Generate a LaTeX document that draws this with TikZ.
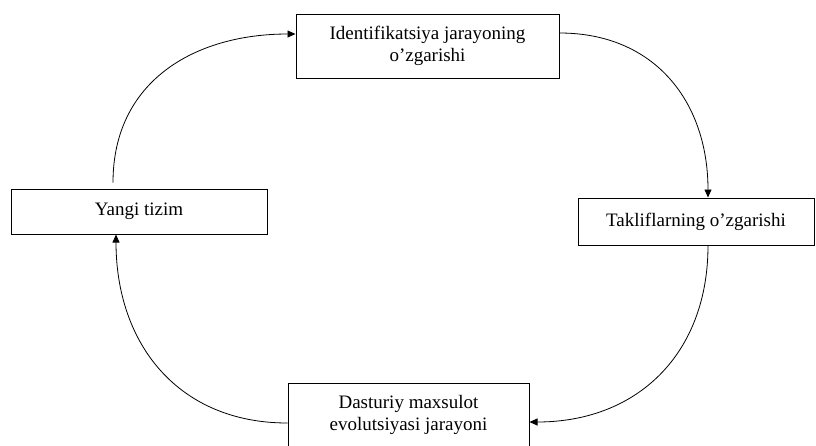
\documentclass[tikz,border=0pt]{standalone}
\usepackage{fontspec}
\setmainfont{Liberation Serif}
\usepackage{tikz}
\usetikzlibrary{arrows.meta,shapes,calc}

\begin{document}
\begin{tikzpicture}[x=1pt,y=-1pt]
            \tikzset{box/.style = {draw, line width=1pt, rectangle, align=center,
                font=\fontsize{19}{22}\selectfont}}
            \tikzset{edge/.style = {line width=0.8pt, -{Triangle[length=8pt,width=7pt]}}}
            \useasboundingbox (0,0) rectangle (816,445);

            % vertices
            \node[box, minimum width=263pt, minimum height=64pt] (ident) at (427.5,46) {Identifikatsiya jarayoning\\o’zgarishi};
            \node[box, minimum width=236pt, minimum height=47pt] (taklif) at (696,221.5) {Takliflarning o’zgarishi};
            \node[box, minimum width=241pt, minimum height=64pt] (dastur) at (408.5,415) {Dasturiy maxsulot\\evolutsiyasi jarayoni};
            \node[box, minimum width=256pt, minimum height=45pt] (yangi) at (139,211.5) {Yangi tizim};

            % edges
            \draw[edge] ([xshift=-26pt,yshift=6pt]yangi.north) to[out=90,in=180,looseness=1.1] ([yshift=12pt]ident.west);
            \draw[edge] ([yshift=13pt]ident.east) to[out=0,in=90,looseness=1.1] ([xshift=12pt]taklif.north);
            \draw[edge] ([xshift=12pt]taklif.south) to[out=-90,in=0,looseness=1.1] ([yshift=-7pt]dastur.east);
            \draw[edge] ([yshift=-8pt]dastur.west) to[out=180,in=-90,looseness=1.1] ([xshift=-23pt]yangi.south);

\end{tikzpicture}
\end{document}
